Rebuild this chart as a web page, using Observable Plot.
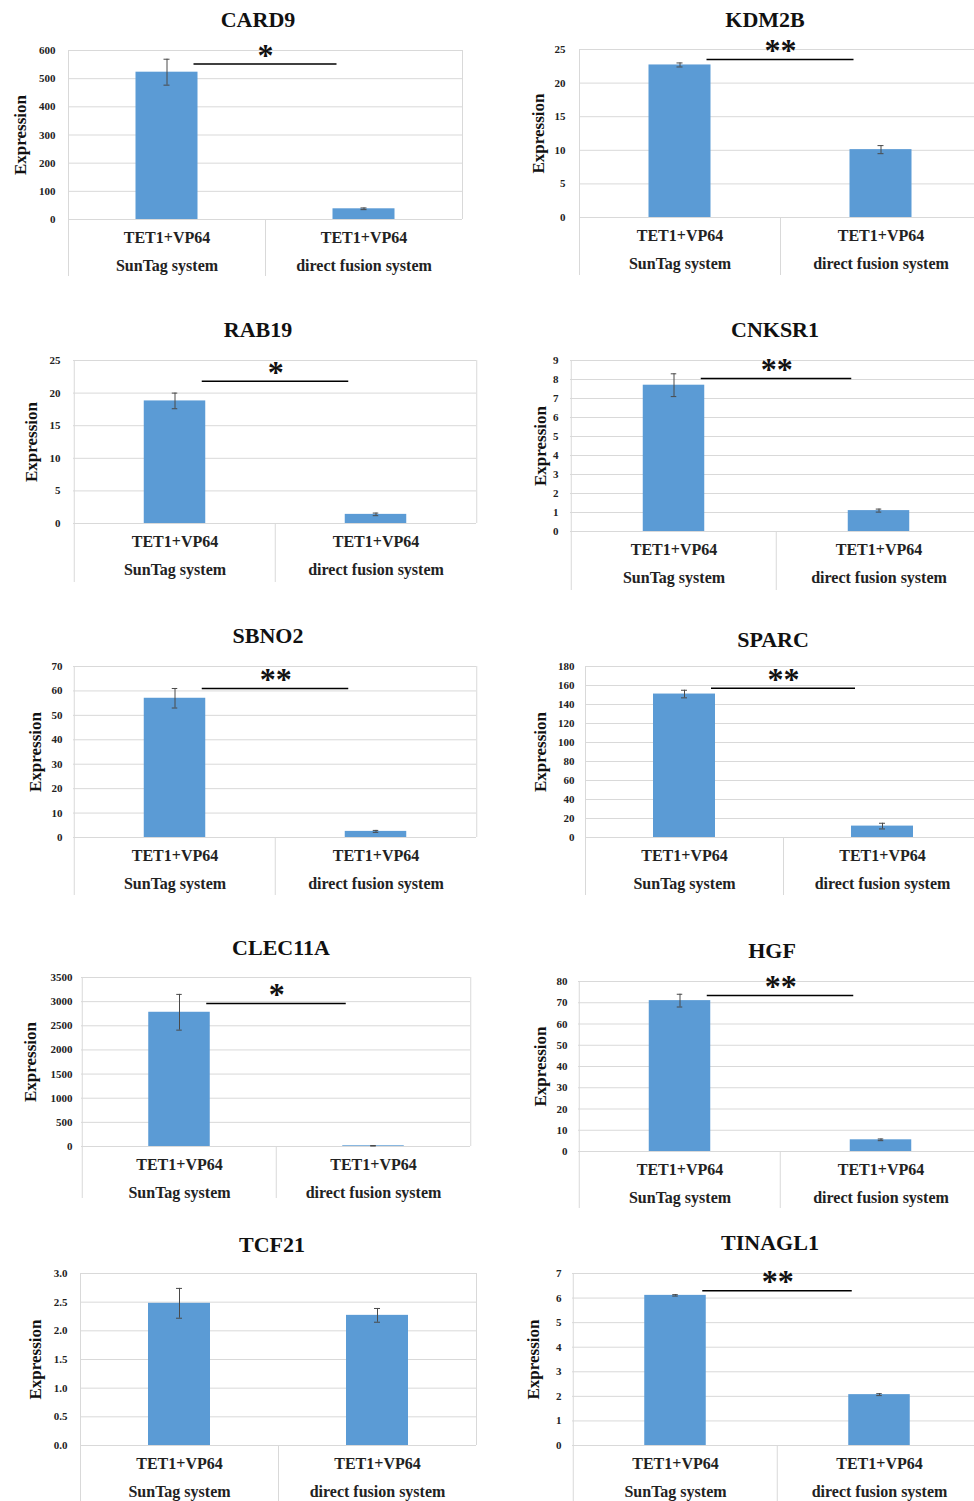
<!DOCTYPE html>
<html><head><meta charset="utf-8">
<script src="https://cdn.jsdelivr.net/npm/d3@7"></script>
<script src="https://cdn.jsdelivr.net/npm/@observablehq/plot@0.6"></script>
<style>
html,body{margin:0;padding:0;background:#fff;overflow:hidden;}
#root{position:relative;width:974px;height:1501px;overflow:hidden;}
.panel{position:absolute;}
.panel svg{max-width:none !important;display:block;}
.title{position:absolute;font-family:"Liberation Serif",serif;font-weight:bold;font-size:22px;color:#111;transform:translate(-50%,-50%);white-space:nowrap;}
</style></head><body><div id="root"></div>
<script>
// ---- data ----
const genes = ["CARD9","KDM2B","RAB19","CNKSR1","SBNO2","SPARC","CLEC11A","HGF","TCF21","TINAGL1"];
const categories = ["SunTag","direct"];
const categoryLine1 = ["TET1+VP64","TET1+VP64"];
const categoryLine2 = ["SunTag system","direct fusion system"];
const sunTagMean = [523, 22.7, 18.8, 7.7, 57, 151, 2780, 71, 2.48, 6.11];
const sunTagErr  = [46, 0.3, 1.2, 0.6, 4, 4, 370, 3, 0.26, 0.03];
const directMean = [38, 10.1, 1.4, 1.1, 2.5, 12, 15, 5.5, 2.27, 2.07];
const directErr  = [3, 0.6, 0.2, 0.08, 0.4, 3, 5, 0.4, 0.12, 0.04];
const yMax   = [600, 25, 25, 9, 70, 180, 3500, 80, 3.0, 7];
const yStep  = [100, 5, 5, 1, 10, 20, 500, 10, 0.5, 1];
const tickDecimals = [0,0,0,0,0,0,0,0,1,0];
const sigLabel = ["*","**","*","**","**","**","*","**","","**"];
const sigY = [552, 23.5, 21.8, 8.05, 61, 157, 2960, 73.4, null, 6.3];

// ---- layout (page pixels) ----
const layout = [
  {fl:68,  fr:462, ft:50,   fb:219,  lb:276,  tx:258, ty:20,   lx:20,  tp:13},
  {fl:579, fr:981, ft:49,   fb:217,  lb:275,  tx:765, ty:20,   lx:538, tp:14},
  {fl:73,  fr:476, ft:360,  fb:523,  lb:582,  tx:258, ty:330,  lx:31,  tp:13},
  {fl:570, fr:981, ft:360,  fb:531,  lb:590,  tx:775, ty:330,  lx:540, tp:12},
  {fl:73,  fr:476, ft:666,  fb:837,  lb:895,  tx:268, ty:636,  lx:35,  tp:11},
  {fl:585, fr:981, ft:666,  fb:837,  lb:895,  tx:773, ty:640,  lx:540, tp:11},
  {fl:81,  fr:470, ft:977,  fb:1146, lb:1198, tx:281, ty:948,  lx:30,  tp:9},
  {fl:578, fr:981, ft:981,  fb:1151, lb:1208, tx:772, ty:951,  lx:540, tp:11},
  {fl:80,  fr:476, ft:1273, fb:1445, lb:1503, tx:272, ty:1245, lx:35,  tp:13},
  {fl:572, fr:981, ft:1273, fb:1445, lb:1503, tx:770, ty:1243, lx:533, tp:11}
];

const root = document.getElementById("root");
const FONT = '"Liberation Serif", "Times New Roman", serif';
const BAR = "#5B9BD5", GRID = "#d9d9d9", ERR = "#4a4a4a";

genes.forEach((gene, i) => {
  const L = layout[i];
  const svgLeft = i % 2 === 0 ? 0 : 487;
  const marginTop = 30;
  const svgTop = L.ft - marginTop;
  const marginLeft = L.fl - svgLeft;
  const marginRight = 2;
  const width = L.fr - svgLeft + marginRight;
  const marginBottom = L.lb - L.fb + 2;
  const height = L.lb - svgTop + 2;
  const bw = (L.fr - L.fl) / 2;
  const barW = 62;
  const inset = (bw - barW) / 2;
  const ticks = d3.range(0, yMax[i] + yStep[i] / 2, yStep[i]);
  const data = categories.map((c, j) => ({
    cat: c,
    mean: j === 0 ? sunTagMean[i] : directMean[i],
    err: j === 0 ? sunTagErr[i] : directErr[i]
  }));
  const marks = [
    Plot.gridY(ticks, {stroke: GRID, strokeOpacity: 1}),
    Plot.ruleX([categories[0]], {dx: -bw / 2, stroke: GRID, strokeOpacity: 1, insetBottom: -(L.lb - L.fb)}),
    Plot.ruleX([categories[1]], {dx: -bw / 2, stroke: GRID, strokeOpacity: 1, insetTop: L.fb - L.ft, insetBottom: -(L.lb - L.fb)}),
    Plot.ruleX([categories[1]], {dx: bw / 2, stroke: GRID, strokeOpacity: 1}),
    Plot.barY(data, {x: "cat", y: "mean", fill: BAR, insetLeft: inset, insetRight: inset}),
    Plot.ruleX(data, {x: "cat", y1: d => d.mean - d.err, y2: d => d.mean + d.err, stroke: ERR, strokeWidth: 1}),
    Plot.tickY(data, {x: "cat", y: d => d.mean + d.err, stroke: ERR, insetLeft: bw / 2 - 3, insetRight: bw / 2 - 3}),
    Plot.tickY(data, {x: "cat", y: d => d.mean - d.err, stroke: ERR, insetLeft: bw / 2 - 3, insetRight: bw / 2 - 3}),
    Plot.axisY({ticks, tickSize: 0, tickPadding: L.tp, fontSize: 11, fontWeight: "bold", fill: "#222",
      tickFormat: d => d.toFixed(tickDecimals[i]), label: null}),
    Plot.axisX({tickSize: 0, tickPadding: 4, fontSize: 16, fontWeight: "bold", fill: "#222", lineHeight: 1.75,
      tickFormat: d => { const k = categories.indexOf(d); return categoryLine1[k] + "\n" + categoryLine2[k]; }, label: null}),
    Plot.text(["Expression"], {frameAnchor: "left", dx: L.lx - L.fl, rotate: -90, textAnchor: "middle",
      fontSize: 17, fontWeight: "bold", fill: "#111"})
  ];
  if (sigLabel[i]) {
    marks.push(
      Plot.ruleY([sigY[i]], {x1: () => categories[0], x2: () => categories[1], y: d => d,
        insetLeft: bw / 2 + 27, insetRight: bw / 2 + 27, stroke: "#000", strokeWidth: 1.5}),
      Plot.text([sigLabel[i]], {x: () => categories[0], y: () => sigY[i], dx: bw / 2, dy: -21,
        text: d => d, fontSize: 32, fontWeight: "bold", fill: "#111", lineAnchor: "top"})
    );
  }
  const chart = Plot.plot({
    width, height, marginTop, marginRight, marginBottom, marginLeft,
    style: {fontFamily: FONT, background: "transparent", overflow: "visible"},
    x: {domain: categories, padding: 0, label: null},
    y: {domain: [0, yMax[i]], label: null},
    marks
  });
  const div = document.createElement("div");
  div.className = "panel";
  div.style.left = svgLeft + "px";
  div.style.top = svgTop + "px";
  div.style.width = width + "px";
  div.style.height = height + "px";
  div.appendChild(chart);
  root.appendChild(div);
  const t = document.createElement("div");
  t.className = "title";
  t.style.left = L.tx + "px";
  t.style.top = L.ty + "px";
  t.textContent = gene;
  root.appendChild(t);
});
</script>
</body></html>
